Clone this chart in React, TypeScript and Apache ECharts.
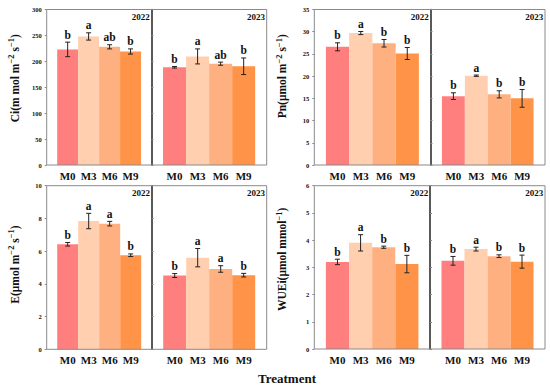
import React, { useEffect, useRef } from 'react';
import * as echarts from 'echarts';

const TREATMENTS = ['M0', 'M3', 'M6', 'M9'];
const YEARS = ['2022', '2023'];
const BAR_COLORS = ['#FF7F7F', '#FFCFB0', '#FFB080', '#FF9449'];

// Ci
const CI_2022 = [223, 248, 228, 219];
const CI_2022_SD = [14, 7, 4, 5];
const CI_2022_LET = ['b', 'a', 'ab', 'b'];
const CI_2023 = [188.5, 209.5, 195.5, 190.5];
const CI_2023_SD = [1.5, 14.5, 3, 16];
const CI_2023_LET = ['b', 'a', 'ab', 'b'];
// Pn
const PN_2022 = [26.6, 29.7, 27.4, 25.1];
const PN_2022_SD = [0.9, 0.35, 0.85, 1.35];
const PN_2022_LET = ['b', 'a', 'b', 'b'];
const PN_2023 = [15.5, 20.1, 15.9, 15.0];
const PN_2023_SD = [0.75, 0.15, 0.8, 2.0];
const PN_2023_LET = ['b', 'a', 'b', 'b'];
// E
const E_2022 = [6.42, 7.84, 7.68, 5.75];
const E_2022_SD = [0.11, 0.47, 0.14, 0.08];
const E_2022_LET = ['b', 'a', 'a', 'b'];
const E_2023 = [4.51, 5.6, 4.91, 4.53];
const E_2023_SD = [0.12, 0.56, 0.2, 0.11];
const E_2023_LET = ['b', 'a', 'a', 'b'];
// WUEi
const WUE_2022 = [3.2, 3.9, 3.74, 3.12];
const WUE_2022_SD = [0.1, 0.3, 0.04, 0.32];
const WUE_2022_LET = ['b', 'a', 'b', 'b'];
const WUE_2023 = [3.24, 3.67, 3.41, 3.21];
const WUE_2023_SD = [0.16, 0.07, 0.05, 0.24];
const WUE_2023_LET = ['b', 'a', 'b', 'b'];

const Y_MAX = [300, 35, 10, 6];
const Y_INTERVAL = [50, 5, 2, 1];
const Y_TITLES = [
  '{n|Ci(m mol m}{s|−2}{n| s}{s|−1}{n|)}',
  '{n|Pn(μmol m}{s|−2}{n| s}{s|−1}{n|)}',
  '{n|E(μmol m}{s|−2}{n| s}{s|−1}{n|)}',
  '{n|WUEi(μmol mmol}{s|−1}{n|)}',
];
const X_TITLE = 'Treatment';

const VALUES = [[CI_2022, CI_2023], [PN_2022, PN_2023], [E_2022, E_2023], [WUE_2022, WUE_2023]];
const SDS = [[CI_2022_SD, CI_2023_SD], [PN_2022_SD, PN_2023_SD], [E_2022_SD, E_2023_SD], [WUE_2022_SD, WUE_2023_SD]];
const LETTERS = [[CI_2022_LET, CI_2023_LET], [PN_2022_LET, PN_2023_LET], [E_2022_LET, E_2023_LET], [WUE_2022_LET, WUE_2023_LET]];

// layout (pixels)
const LAYOUT = [
  { left: 46.7, mid: 151.5, right: 266.7, top: 9.5, bottom: 165, titleShift: 18 },
  { left: 314.3, mid: 430.5, right: 545, top: 9.5, bottom: 165, titleShift: 22 },
  { left: 46.7, mid: 151.7, right: 266.7, top: 185.7, bottom: 349.3, titleShift: 6 },
  { left: 314.3, mid: 430, right: 545, top: 185.7, bottom: 349, titleShift: 16 },
];

const FONT = '"Liberation Serif", "Times New Roman", serif';
const FRAME_COLOR = '#8a8a8a';

export default function App() {
  const ref = useRef<HTMLDivElement>(null);

  useEffect(() => {
    if (!ref.current) return;
    const chart = echarts.init(ref.current, null, { renderer: 'svg' });

    const grid: any[] = [];
    const xAxis: any[] = [];
    const yAxis: any[] = [];
    const series: any[] = [];
    const graphic: any[] = [];

    LAYOUT.forEach((lay, p) => {
      const subs = [
        [lay.left, lay.mid],
        [lay.mid, lay.right],
      ];
      subs.forEach(([L, R], s) => {
        const w = R - L;
        const idx = p * 2 + s;
        grid.push({
          left: L + 0.1 * w,
          width: 0.8 * w,
          top: lay.top,
          height: lay.bottom - lay.top,
          containLabel: false,
        });
        xAxis.push({
          type: 'category',
          gridIndex: idx,
          data: TREATMENTS,
          boundaryGap: true,
          axisLine: { show: false },
          axisTick: { show: false },
          axisLabel: {
            interval: 0,
            hideOverlap: false,
            margin: 5,
            color: '#111',
            fontFamily: FONT,
            fontWeight: 'bold',
            fontSize: 11,
          },
        });
        const yBase: any = {
          type: 'value',
          gridIndex: idx,
          min: 0,
          max: Y_MAX[p],
          interval: Y_INTERVAL[p],
          offset: 0.1 * w,
          splitLine: { show: false },
        };
        if (s === 0) {
          Object.assign(yBase, {
            axisLine: { show: false },
            axisTick: { show: true, inside: false, length: 2, lineStyle: { color: FRAME_COLOR } },
            axisLabel: {
              show: true,
              margin: 5,
              color: '#111',
              fontFamily: FONT,
              fontWeight: 'bold',
              fontSize: 6.5,
            },
            name: Y_TITLES[p],
            nameLocation: 'middle',
            nameRotate: 90,
            nameGap: 26,
            nameTextStyle: {
              padding: [0, 0, 0, lay.titleShift],
              rich: {
                n: { fontSize: 11.5, fontWeight: 'bold', fontFamily: FONT, color: '#111', lineHeight: 14, verticalAlign: 'bottom' },
                s: { fontSize: 8.5, fontWeight: 'bold', fontFamily: FONT, color: '#111', lineHeight: 9, verticalAlign: 'top' },
              },
            },
          });
        } else {
          Object.assign(yBase, {
            axisLine: { show: true, lineStyle: { color: '#222', width: 1.5 } },
            axisTick: { show: true, inside: true, length: 2, lineStyle: { color: FRAME_COLOR } },
            axisLabel: { show: false },
          });
        }
        yAxis.push(yBase);

        const vals = VALUES[p][s];
        const sds = SDS[p][s];
        const lets = LETTERS[p][s];
        series.push({
          type: 'bar',
          xAxisIndex: idx,
          yAxisIndex: idx,
          barCategoryGap: '0%',
          data: vals.map((v, i) => ({ value: v, itemStyle: { color: BAR_COLORS[i] } })),
          z: 2,
        });
        series.push({
          type: 'custom',
          xAxisIndex: idx,
          yAxisIndex: idx,
          z: 5,
          data: vals.map((v, i) => [i, v, sds[i]]),
          encode: { x: 0, y: 1 },
          renderItem: (params: any, api: any) => {
            const i = api.value(0);
            const m = api.value(1);
            const sd = api.value(2);
            const top = api.coord([i, m + sd]);
            const bot = api.coord([i, m - sd]);
            const cx = top[0];
            const cap = 2.5;
            const style = { stroke: '#222', lineWidth: 1 };
            return {
              type: 'group',
              children: [
                { type: 'line', shape: { x1: cx, y1: top[1], x2: cx, y2: bot[1] }, style },
                { type: 'line', shape: { x1: cx - cap, y1: top[1], x2: cx + cap, y2: top[1] }, style },
                { type: 'line', shape: { x1: cx - cap, y1: bot[1], x2: cx + cap, y2: bot[1] }, style },
                {
                  type: 'text',
                  style: {
                    text: lets[params.dataIndex],
                    x: cx,
                    y: top[1] - 1.5,
                    align: 'center',
                    verticalAlign: 'bottom',
                    font: `bold 11.5px ${FONT}`,
                    fill: '#111',
                  },
                },
              ],
            };
          },
        });

        graphic.push({
          type: 'text',
          z: 20,
          style: {
            text: YEARS[s],
            x: R - 1.8,
            y: lay.top + 2.5,
            align: 'right',
            verticalAlign: 'top',
            font: `bold 9px ${FONT}`,
            fill: '#111',
          },
        });
      });

      graphic.push({
        type: 'rect',
        z: 10,
        shape: { x: lay.left, y: lay.top, width: lay.right - lay.left, height: lay.bottom - lay.top },
        style: { fill: 'none', stroke: FRAME_COLOR, lineWidth: 1 },
      });
    });

    graphic.push({
      type: 'text',
      z: 20,
      style: {
        text: X_TITLE,
        x: 287,
        y: 378,
        align: 'center',
        verticalAlign: 'middle',
        font: `bold 13px ${FONT}`,
        fill: '#111',
      },
    });

    chart.setOption({
      animation: false,
      backgroundColor: '#fff',
      grid,
      xAxis,
      yAxis,
      series,
      graphic,
    });

    return () => chart.dispose();
  }, []);

  return (
    <div
      ref={ref}
      style={{ position: 'fixed', left: 0, top: 0, width: 550, height: 387 }}
    />
  );
}
